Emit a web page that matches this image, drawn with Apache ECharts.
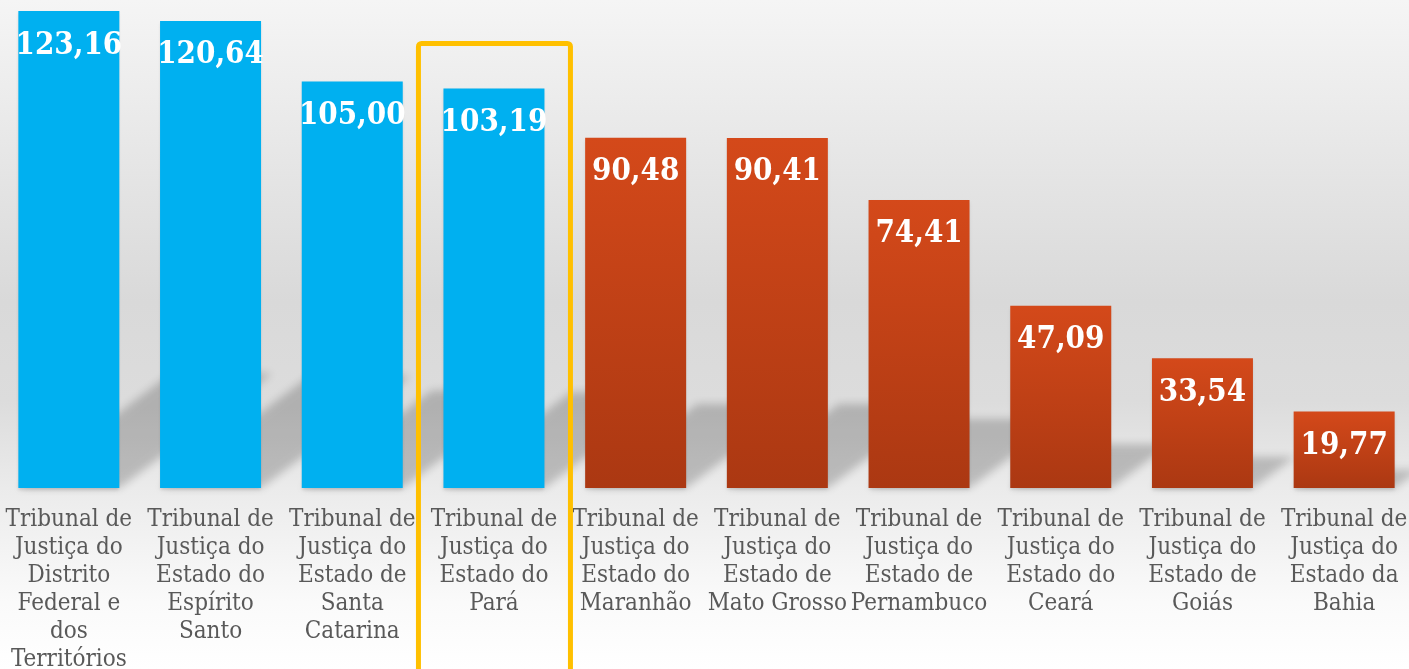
<!DOCTYPE html>
<html>
<head>
<meta charset="utf-8">
<script src="https://cdn.jsdelivr.net/npm/echarts@6/dist/echarts.min.js"></script>
<style>
  html, body { margin: 0; padding: 0; background: #fff; overflow: hidden; }
  #chart { width: 100vw; height: 100vh; }
</style>
</head>
<body>
<div id="chart"></div>
<script>
// tribunais (rótulos do eixo, com quebras como na imagem)
const categories = [
  'Tribunal de\nJustiça do\nDistrito\nFederal e\ndos\nTerritórios',
  'Tribunal de\nJustiça do\nEstado do\nEspírito\nSanto',
  'Tribunal de\nJustiça do\nEstado de\nSanta\nCatarina',
  'Tribunal de\nJustiça do\nEstado do\nPará',
  'Tribunal de\nJustiça do\nEstado do\nMaranhão',
  'Tribunal de\nJustiça do\nEstado de\nMato Grosso',
  'Tribunal de\nJustiça do\nEstado de\nPernambuco',
  'Tribunal de\nJustiça do\nEstado do\nCeará',
  'Tribunal de\nJustiça do\nEstado de\nGoiás',
  'Tribunal de\nJustiça do\nEstado da\nBahia'
];
const values = [123.16, 120.64, 105.00, 103.19, 90.48, 90.41, 74.41, 47.09, 33.54, 19.77];
// quantos primeiros ficam em azul
const blueCount = 4;
const highlightIndex = 3;

const blue = '#00B0F0';
const orange = new echarts.graphic.LinearGradient(0, 0, 0, 1, [
  { offset: 0, color: '#D4491A' },
  { offset: 1, color: '#AB3812' }
]);
const serif = '"DejaVu Serif Condensed", "DejaVu Serif", serif';
const halfBar = 50.5;

const chart = echarts.init(document.getElementById('chart'));

// sombra inclinada atrás de cada barra (desenhada fora da tela e trazida pelo offset da sombra, p/ ficar borrada)
function renderShadow(params, api) {
  const top = api.coord([api.value(0), api.value(1)]);
  const base = api.coord([api.value(0), 0]);
  const h = base[1] - top[1];
  const dx = 0.32 * h, dy = 0.24 * h;
  const xl = base[0] - halfBar, xr = base[0] + halfBar, y0 = base[1];
  const off = 3000;
  return {
    type: 'polygon',
    shape: {
      points: [
        [xl - off, y0], [xr - off, y0],
        [xr + dx - off, y0 - dy], [xl + dx - off, y0 - dy]
      ]
    },
    style: {
      fill: '#000',
      shadowColor: 'rgba(0,0,0,0.2)',
      shadowBlur: 8,
      shadowOffsetX: off
    }
  };
}

chart.setOption({
  animation: false,
  backgroundColor: new echarts.graphic.LinearGradient(0, 0, 0, 1, [
    { offset: 0, color: '#f5f5f5' },
    { offset: 0.45, color: '#d9d9d9' },
    { offset: 0.6, color: '#dcdcdc' },
    { offset: 0.73, color: '#ebebeb' },
    { offset: 0.9, color: '#fafafa' },
    { offset: 1, color: '#ffffff' }
  ]),
  grid: { left: -2, width: 1417, top: 4, bottom: 181, outerBoundsMode: 'none', containLabel: false },
  xAxis: {
    type: 'category',
    data: categories,
    axisLine: { show: false },
    axisTick: { show: false },
    axisLabel: {
      interval: 0,
      margin: 18,
      color: '#595959',
      fontFamily: serif,
      fontSize: 24,
      lineHeight: 28
    }
  },
  yAxis: {
    type: 'value',
    min: 0,
    max: 125,
    show: false,
    splitLine: { show: false }
  },
  series: [{
    type: 'custom',
    z: 1,
    silent: true,
    renderItem: renderShadow,
    data: values.map((v, i) => [i, v])
  }, {
    type: 'bar',
    z: 2,
    barWidth: 101,
    data: values.map((v, i) => ({
      value: v,
      itemStyle: { color: i < blueCount ? blue : orange }
    })),
    itemStyle: {
      shadowColor: 'rgba(0,0,0,0.12)',
      shadowBlur: 3,
      shadowOffsetY: 2
    },
    label: {
      show: true,
      position: 'insideTop',
      distance: 19,
      color: '#fff',
      fontFamily: serif,
      fontWeight: 'bold',
      fontSize: 31,
      lineHeight: 31,
      formatter: p => p.value.toFixed(2).replace('.', ',')
    }
  }]
});

// moldura amarela em volta do Pará
const cx = chart.convertToPixel({ xAxisIndex: 0 }, highlightIndex);
chart.setOption({
  graphic: [{
    type: 'rect',
    z: 10,
    shape: { x: cx - 75.5, y: 43.5, width: 152, height: 700, r: 3 },
    style: { fill: 'none', stroke: '#FFC000', lineWidth: 5 }
  }]
});
</script>
</body>
</html>
